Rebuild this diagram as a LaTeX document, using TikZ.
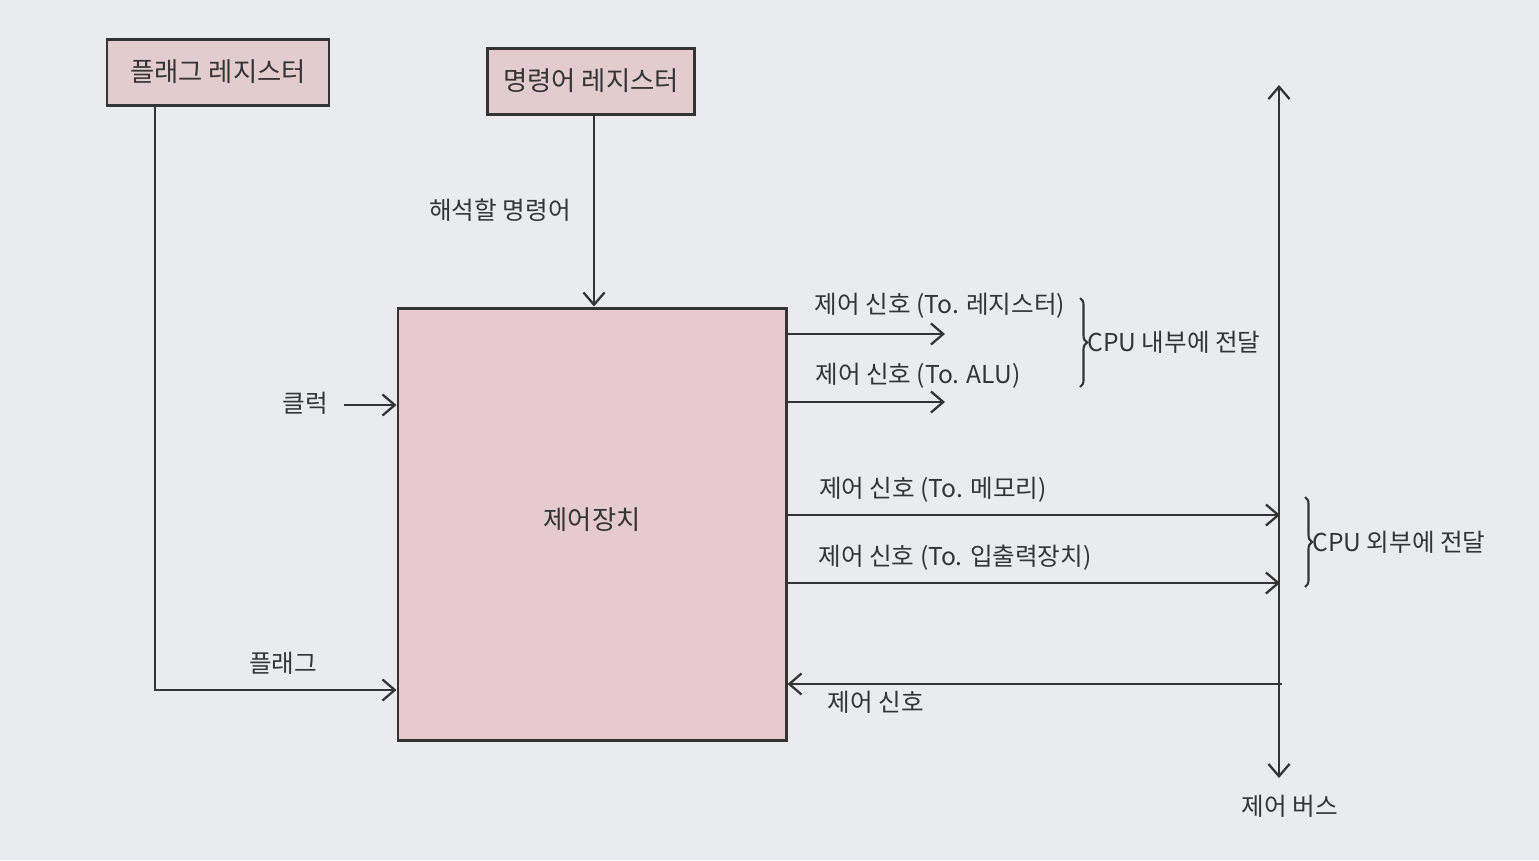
\documentclass[tikz,border=0pt]{standalone}
\usepackage{fontspec}
\newfontfamily\kr{Noto Sans CJK KR}
\usepackage{xcolor}
\usetikzlibrary{arrows.meta,positioning,calc,decorations.pathreplacing}
\definecolor{paper}{RGB}{233,235,237}
\definecolor{ink}{RGB}{52,52,52}
\definecolor{regpink}{RGB}{226,204,206}
\definecolor{cupink}{RGB}{229,203,207}
\tikzset{
  reg/.style ={draw=ink,line width=1.7pt,fill=regpink,minimum height=66*0.02cm,font=\kr\fontsize{15}{17}\selectfont,text=ink},
  unit/.style={draw=ink,line width=1.7pt,fill=cupink,minimum width=388*0.02cm,minimum height=432*0.02cm},
  lbl/.style ={font=\kr\fontsize{14}{16}\selectfont,text=ink,inner sep=1pt},
  ar/.style  ={-{Straight Barb[length=7pt,width=12pt]},line width=1.3pt,draw=ink},
  arb/.style ={{Straight Barb[length=7pt,width=12pt]}-{Straight Barb[length=7pt,width=12pt]},line width=1.3pt,draw=ink},
  brc/.style ={decorate,decoration={brace,amplitude=4pt},line width=1.2pt,draw=ink},
}
\begin{document}
\begin{tikzpicture}[x=0.02cm,y=-0.02cm]
  \fill[paper] (0,0) rectangle (1539,860);
  \useasboundingbox (0,0) rectangle (1539,860);
  % registers and control unit
  \node[reg,minimum width=222*0.02cm] (flagreg) at (218,72){플래그 레지스터};
  \node[reg,minimum width=207*0.02cm] (instreg) at (591,81){명령어 레지스터};
  \node[unit] (cu) at (592,524){};
  \node[lbl,font=\kr\fontsize{15}{17}\selectfont] (cutxt) at (592,520){제어장치};
  % inputs
  \draw[ar] (instreg.south -| 594,0) -- (cu.north -| 594,0);
  \node[lbl] (instlbl) at (500,210){해석할 명령어};
  \node[lbl] (clk) at (305,403){클럭};
  \draw[ar] (clk.east) ++(14,2) coordinate (clkst) -- (cu.west |- clkst);
  \coordinate (flagin) at (155,690);
  \draw[ar] (flagreg.south -| flagin) -- (flagin) -- (cu.west |- flagin);
  \node[lbl] (flaglbl) at (283,663){플래그};
  % control bus
  \coordinate (bustop) at (1279,85);
  \coordinate (busbot) at (1279,778);
  \draw[arb] (bustop) -- (busbot);
  \node[lbl] (buslbl) at (1290,806){제어 버스};
  % outgoing signals
  \coordinate (regend) at (945,334);
  \coordinate (aluend) at (945,402);
  \coordinate (memend) at (1280,515);
  \coordinate (ioend) at (1280,583);
  \draw[ar] (cu.east |- regend) -- (regend);
  \draw[ar] (cu.east |- aluend) -- (aluend);
  \draw[ar] (cu.east |- memend) -- (memend);
  \draw[ar] (cu.east |- ioend) -- (ioend);
  \node[lbl] (reglbl) at (940,306){제어 신호 (To. 레지스터)};
  \node[lbl] (alulbl) at (918,376){제어 신호 (To. ALU)};
  \node[lbl] (memlbl) at (933,490){제어 신호 (To. 메모리)};
  \node[lbl] (iolbl) at (955,558){제어 신호 (To. 입출력장치)};
  % incoming signal
  \coordinate (retst) at (1282,684);
  \draw[ar] (retst) -- (cu.east |- retst);
  \node[lbl] (retlbl) at (876,702){제어 신호};
  % braces
  \draw[brc] (1080,298) -- (1080,387) coordinate[pos=.5] (inmid);
  \node[lbl,right=3pt of inmid] (inlbl){CPU 내부에 전달};
  \draw[brc] (1305,497) -- (1305,587) coordinate[pos=.5] (outmid);
  \node[lbl,right=3pt of outmid] (outlbl){CPU 외부에 전달};
\end{tikzpicture}
\end{document}
